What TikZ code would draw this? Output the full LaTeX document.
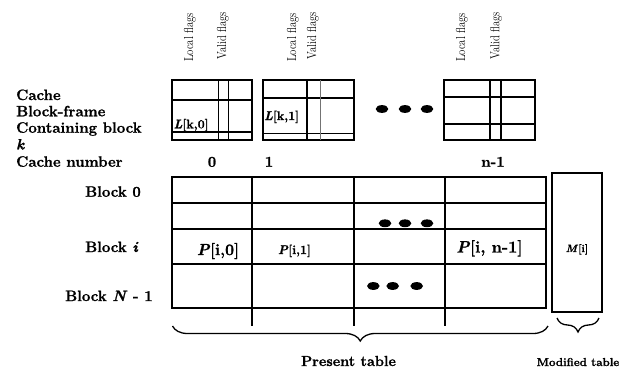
\documentclass[tikz,border=0pt]{standalone}
\usepackage{fontspec}
\setmainfont{Latin Modern Roman}[
  BoldFont={Latin Modern Roman/B},
  BoldItalicFont={Latin Modern Roman/BI},
  BoldFeatures={FakeBold=1.2},
  BoldItalicFeatures={FakeBold=1.2}]
\usetikzlibrary{decorations.pathreplacing}
\begin{document}
\begin{tikzpicture}[x=1pt,y=-1pt,
  grid/.style={line width=1.6pt},
  thingrid/.style={line width=1pt, black!55},
  lbl/.style={inner sep=0pt, font=\fontsize{15}{18}\selectfont\bfseries},
  flag/.style={inner sep=0pt, rotate=90, anchor=west, font=\fontsize{13}{15}\selectfont},
  dotmark/.style={fill=black, draw=none},
  bracedown/.style={decorate, line width=1.3pt, decoration={brace, mirror, amplitude=#1}}]
\useasboundingbox (0,0) rectangle (637,370);

% rotated flag column headings
\node[flag] (lf0) at (190,62) {\scalebox{0.82}[1]{Local flags}};
\node[flag] (vf0) at (223,60) {\scalebox{0.82}[1]{Valid flags}};
\node[flag] (lf1) at (293,62) {\scalebox{0.82}[1]{Local flags}};
\node[flag] (vf1) at (313,60) {\scalebox{0.82}[1]{Valid flags}};
\node[flag] (lfn) at (462,62) {\scalebox{0.82}[1]{Local flags}};
\node[flag] (vfn) at (496,60) {\scalebox{0.82}[1]{Valid flags}};

% cache block-frames
\draw[grid] (172,80) rectangle (252,140);
\draw[grid] (172,100) -- (252,100) (172,131.7) -- (252,131.7);
\draw[grid] (218.3,80) -- (218.3,140) (228.3,80) -- (228.3,140);

\draw[grid] (263,80) rectangle (354,140);
\draw[grid] (263,97.7) -- (354,97.7) (263,133.3) -- (354,133.3);
\draw[grid] (306.7,80) -- (306.7,140);
\draw[thingrid] (320.7,80) -- (320.7,140);

\draw[grid] (444,80) rectangle (535,140);
\draw[grid] (444,97) -- (535,97) (444,124) -- (535,124);
\draw[grid] (490,80) -- (490,140) (501,80) -- (501,140);

\node[lbl, anchor=base west, font=\fontsize{12.5}{14}\selectfont\bfseries] (lk0) at (173.5,128.3) {\textit{L}[k,0]};
\node[lbl, anchor=base west, font=\fontsize{12.5}{14}\selectfont\bfseries] (lk1) at (264,120) {\textit{L}[k,1]};

% ellipsis between cache frames
\foreach \cx in {382,405,427} \fill[dotmark] (\cx,109) ellipse (6.3pt and 3.9pt);

% left-hand labels
\node[lbl, anchor=base west] (cache) at (16,100) {Cache};
\node[lbl, anchor=base west] (frame) at (16,116.3) {Block-frame};
\node[lbl, anchor=base west] (cont) at (16,132.7) {Containing block};
\node[lbl, anchor=base west] (kk) at (16,149.5) {\textit{k}};
\node[lbl, anchor=base west] (cnum) at (16,166.7) {Cache number};

\node[lbl, anchor=base] (n0) at (212,166.7) {0};
\node[lbl, anchor=base] (n1) at (269,166.7) {1};
\node[lbl, anchor=base] (nn) at (493,166.7) {n-1};

\node[lbl, anchor=base west] (b0) at (85,196.7) {Block 0};
\node[lbl, anchor=base west] (bi) at (85,252) {Block \textit{i}};
\node[lbl, anchor=base west] (bn) at (65,301) {Block \textit{N} - 1};

% present table
\draw[grid] (172,177) rectangle (546,308);
\foreach \ry in {203,229,264} \draw[grid] (172,\ry) -- (546,\ry);
\foreach \cx in {252,354,445} \draw[grid] (\cx,177) -- (\cx,326);

\node[lbl, anchor=base, font=\fontsize{16}{18}\selectfont\bfseries] (p0) at (218,255) {\textit{P}[i,0]};
\node[lbl, anchor=base, font=\fontsize{12.5}{14}\selectfont\bfseries] (p1) at (294.5,254) {\textit{P}[i,1]};
\node[lbl, anchor=base, font=\fontsize{16.5}{18}\selectfont\bfseries] (pn) at (489.5,252.5) {\textit{P}[i, n-1]};

\foreach \cx in {385,405,427} \fill[dotmark] (\cx,223.3) ellipse (6.3pt and 3.9pt);
\foreach \cx in {373.3,392.7,416.7} \fill[dotmark] (\cx,286) ellipse (6.3pt and 3.9pt);

% modified table
\draw[grid] (552,173) rectangle (602,312);
\node[lbl, anchor=base, font=\fontsize{10.5}{12}\selectfont\bfseries] (mi) at (577,252) {\textit{M}[i]};

% braces and captions
\coordinate (pl) at (172.5,326);
\coordinate (pr) at (548,326);
\draw[bracedown=15pt] (pl) -- (pr);
\coordinate (ml) at (557,318);
\coordinate (mr) at (599,318);
\draw[bracedown=14pt] (ml) -- (mr);

\node[lbl, anchor=base, font=\fontsize{14.5}{16}\selectfont\bfseries] (pt) at (348.5,366) {Present table};
\node[lbl, anchor=base, font=\fontsize{11.5}{13}\selectfont\bfseries] (mt) at (578,366) {Modified table};
\end{tikzpicture}
\end{document}
